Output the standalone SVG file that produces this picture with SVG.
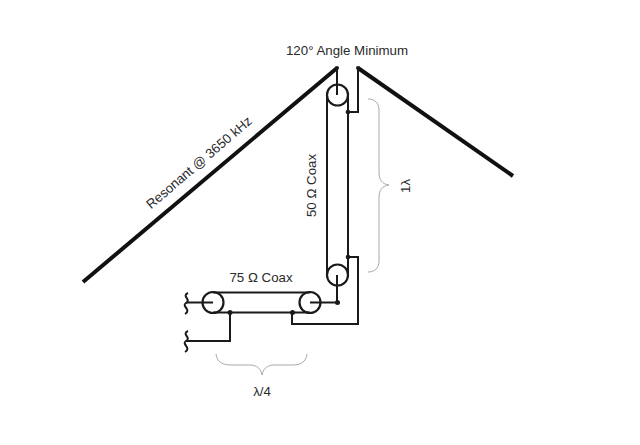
<svg xmlns="http://www.w3.org/2000/svg" width="640" height="445" viewBox="0 0 640 445">
<style>
.w{fill:none;stroke:#1a1a1a;stroke-width:2}
.a{fill:none;stroke:#111;stroke-width:4}
.c{fill:none;stroke:#1a1a1a;stroke-width:2.200}
.d{fill:#1a1a1a}
.b{fill:none;stroke:#a8a8a8;stroke-width:1}
text{font-family:"Liberation Sans",Arial,sans-serif;font-size:13.300px;fill:#2a2a2a}
</style>
<rect width="640" height="445" fill="#fff"/>
<g id="connectors">
<path class="a" d="M83 282L337 68"/>
<path class="a" d="M358 68L513 176"/>
<path class="w" d="M337 68V95"/>
<path class="w" d="M358 68V112H348"/>
<path class="w" d="M327 95V275M348 95V275"/>
<path class="w" d="M348 257H358V324H292V312"/>
<path class="w" d="M337 275V302.500H310"/>
<path class="w" d="M213 292.500H310M213 312.500H310"/>
<path class="w" d="M213 302.500H186"/>
<path class="w" d="M230 312.500V341H186"/>
<path class="w" d="M188 293C181 296 192 300 186 303C181 306 192 310 185 314"/>
<path class="w" d="M188 331C181 334 192 338 186 341C181 344 192 348 185 352"/>
<path class="b" d="M216 354C217 362 222 365 232 365H250C257 365 261 369 262 375C263 369 267 365 274 365H292C301 365 306 362 307 354"/>
<path class="b" d="M368 99C375 99 379 103 379 110V172C379 180 382 184 389 185C382 186 379 190 379 198V261C379 268 375 272 368 272"/>
</g>
<g id="balun-top"><circle class="c" cx="337.500" cy="95" r="10.500"/><circle class="d" cx="337" cy="68" r="2"/><circle class="d" cx="358" cy="68" r="2"/><circle class="d" cx="348" cy="112" r="2.300"/></g>
<g id="balun-bottom"><circle class="c" cx="337.500" cy="275" r="10.500"/><circle class="d" cx="348" cy="257" r="2.300"/><circle class="d" cx="337.500" cy="302.500" r="2.500"/></g>
<g id="coax-right"><circle class="c" cx="310" cy="302.500" r="10.500"/><circle class="d" cx="292.500" cy="312.500" r="2.500"/></g>
<g id="coax-left"><circle class="c" cx="213" cy="302.500" r="10.500"/><circle class="d" cx="230" cy="312.500" r="2.500"/></g>
<g id="labels">
<text x="347" y="54.500" text-anchor="middle">120° Angle Minimum</text>
<text transform="translate(151 209.500) rotate(-40.500)">Resonant @ 3650 kHz</text>
<text transform="translate(316 185.500) rotate(-90)" text-anchor="middle">50 Ω Coax</text>
<text x="261" y="282" text-anchor="middle">75 Ω Coax</text>
<text transform="translate(410 186) rotate(-90)" text-anchor="middle">1λ</text>
<text x="262" y="396" text-anchor="middle">λ/4</text>
</g>
</svg>
